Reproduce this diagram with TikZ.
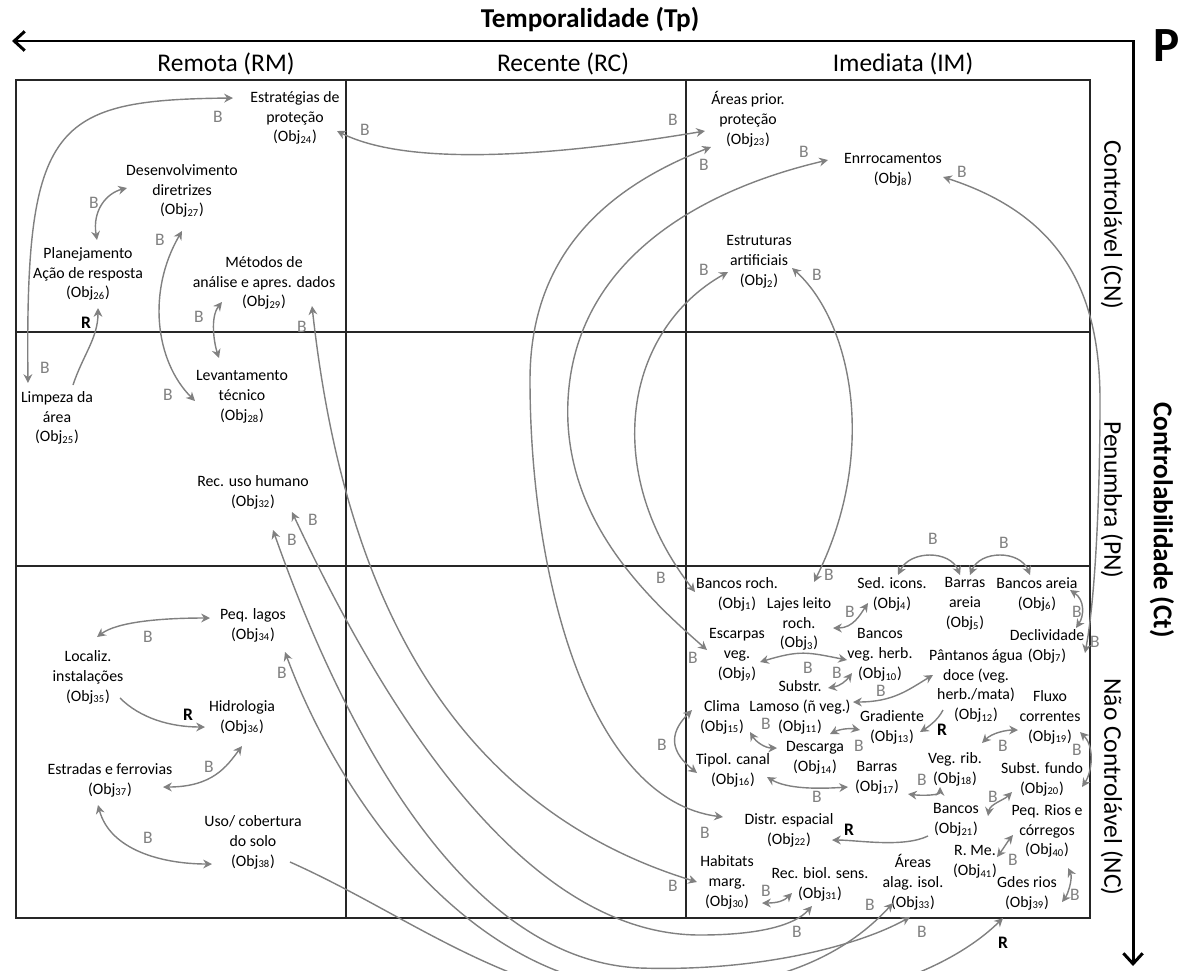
\documentclass[tikz,border=0pt]{standalone}
\usepackage{fontspec}
\setmainfont{Carlito}
\usetikzlibrary{arrows.meta}
\definecolor{linkgray}{RGB}{128,128,128}
\tikzset{
  obj/.style={align=center,inner sep=1pt,font=\fontsize{9}{11.3}\selectfont},
  hdr/.style={font=\fontsize{14.5}{17}\selectfont},
  ttl/.style={font=\bfseries\fontsize{15.5}{18}\selectfont},
  celline/.style={line width=0.9pt,black!85},
  axisline/.style={line width=1.7pt,line join=miter,{Straight Barb[length=6pt,width=11pt]}-{Straight Barb[length=6pt,width=11pt]}},
  lnk/.style={linkgray,line width=0.8pt,-{Stealth[length=5pt,width=5pt]}},
  lnkb/.style={lnk,{Stealth[length=5pt,width=5pt]}-{Stealth[length=5pt,width=5pt]}},
  bl/.style={text=linkgray,inner sep=0pt,font=\fontsize{10}{12}\selectfont},
  rl/.style={inner sep=0pt,font=\bfseries\fontsize{10}{12}\selectfont}
}
\begin{document}
\begin{tikzpicture}[x=0.02cm,y=-0.02cm]
    \useasboundingbox (0,0) rectangle (1189,970);
    \coordinate (tpend) at (12,41);
    \coordinate (corner) at (1133,41);
    \coordinate (ctend) at (1133,966);
    \draw[axisline] (tpend) -- (corner) -- (ctend);
    \node[ttl] (tp) at (590,20) {Temporalidade (Tp)};
    \node[font=\bfseries\fontsize{28}{30}\selectfont] (pp) at (1167,46) {P};
    \node[ttl,rotate=-90] (ct) at (1162,520) {Controlabilidade (Ct)};
    \node[hdr] (rm) at (226,64) {Remota (RM)};
    \node[hdr] (rc) at (563,64) {Recente (RC)};
    \node[hdr] (im) at (903,64) {Imediata (IM)};
    \node[hdr,rotate=-90] (cn) at (1112,225) {Controlável (CN)};
    \node[hdr,rotate=-90] (pn) at (1112,500) {Penumbra (PN)};
    \node[hdr,rotate=-90] (nc) at (1112,787) {Não Controlável (NC)};
    \draw[celline] (16,80) rectangle (1090,918);
    \draw[celline] (346,80) -- (346,918);
    \draw[celline] (686,80) -- (686,918);
    \draw[celline] (16,332) -- (1090,332);
    \draw[celline] (16,566) -- (1090,566);

    \node[obj] (o24) at (295,118) {Estratégias de\\proteção\\(Obj\textsubscript{24})};
    \node[obj] (o27) at (182,191) {Desenvolvimento\\diretrizes\\(Obj\textsubscript{27})};
    \node[obj] (o26) at (88,274) {Planejamento\\Ação de resposta\\(Obj\textsubscript{26})};
    \node[obj] (o29) at (264,283) {Métodos de\\análise e apres. dados\\(Obj\textsubscript{29})};
    \node[obj] (o25) at (57,418) {Limpeza da\\área\\(Obj\textsubscript{25})};
    \node[obj] (o28) at (242,397) {Levantamento\\técnico\\(Obj\textsubscript{28})};
    \node[obj] (o32) at (253,492) {Rec. uso humano\\(Obj\textsubscript{32})};
    \node[obj] (o34) at (253,625) {Peq. lagos\\(Obj\textsubscript{34})};
    \node[obj] (o35) at (88,677) {Localiz.\\instalações\\(Obj\textsubscript{35})};
    \node[obj] (o36) at (242,717) {Hidrologia\\(Obj\textsubscript{36})};
    \node[obj] (o37) at (110,780) {Estradas e ferrovias\\(Obj\textsubscript{37})};
    \node[obj] (o38) at (253,842) {Uso/ cobertura\\do solo\\(Obj\textsubscript{38})};
    \node[obj] (o23) at (748,119) {Áreas prior.\\proteção\\(Obj\textsubscript{23})};
    \node[obj] (o8) at (893,170) {Enrrocamentos\\(Obj\textsubscript{8})};
    \node[obj] (o2) at (759,262) {Estruturas\\artificiais\\(Obj\textsubscript{2})};
    \node[obj] (o1) at (737,594) {Bancos roch.\\(Obj\textsubscript{1})};
    \node[obj] (o3) at (799,624) {Lajes leito\\roch.\\(Obj\textsubscript{3})};
    \node[obj] (o4) at (892,594) {Sed. icons.\\(Obj\textsubscript{4})};
    \node[obj] (o5) at (965,604) {Barras\\areia\\(Obj\textsubscript{5})};
    \node[obj] (o6) at (1037,594) {Bancos areia\\(Obj\textsubscript{6})};
    \node[obj] (o7) at (1047,646) {Declividade\\(Obj\textsubscript{7})};
    \node[obj] (o9) at (737,655) {Escarpas\\veg.\\(Obj\textsubscript{9})};
    \node[obj] (o10) at (880,655) {Bancos\\veg. herb.\\(Obj\textsubscript{10})};
    \node[obj] (o12) at (976,686) {Pântanos água\\doce (veg.\\herb./mata)\\(Obj\textsubscript{12})};
    \node[obj] (o11) at (800,707) {Substr.\\Lamoso (ñ veg.)\\(Obj\textsubscript{11})};
    \node[obj] (o15) at (722,717) {Clima\\(Obj\textsubscript{15})};
    \node[obj] (o13) at (892,727) {Gradiente\\(Obj\textsubscript{13})};
    \node[obj] (o19) at (1050,717) {Fluxo\\correntes\\(Obj\textsubscript{19})};
    \node[obj] (o14) at (815,758) {Descarga\\(Obj\textsubscript{14})};
    \node[obj] (o16) at (733,770) {Tipol. canal\\(Obj\textsubscript{16})};
    \node[obj] (o17) at (877,778) {Barras\\(Obj\textsubscript{17})};
    \node[obj] (o18) at (955,769) {Veg. rib.\\(Obj\textsubscript{18})};
    \node[obj] (o20) at (1042,779) {Subst. fundo\\(Obj\textsubscript{20})};
    \node[obj] (o21) at (956,820) {Bancos\\(Obj\textsubscript{21})};
    \node[obj] (o40) at (1047,831) {Peq. Rios e\\córregos\\(Obj\textsubscript{40})};
    \node[obj] (o22) at (789,830) {Distr. espacial\\(Obj\textsubscript{22})};
    \node[obj] (o41) at (975,862) {R. Me.\\(Obj\textsubscript{41})};
    \node[obj] (o30) at (727,882) {Habitats\\marg.\\(Obj\textsubscript{30})};
    \node[obj] (o31) at (820,884) {Rec. biol. sens.\\(Obj\textsubscript{31})};
    \node[obj] (o33) at (913,882) {Áreas\\alag. isol.\\(Obj\textsubscript{33})};
    \node[obj] (o39) at (1027,893) {Gdes rios\\(Obj\textsubscript{39})};

    \draw[lnkb] ([shift={(-29,-35)}]o25.center) .. controls +(-3,-260) and +(-180,2) .. ([shift={(-62,-20)}]o24.center);
    \draw[lnk] ([shift={(16,-33)}]o25.center) .. controls +(10,-30) and +(0,30) .. ([shift={(10,34)}]o26.center);
    \draw[lnkb] ([shift={(9,-34)}]o26.center) .. controls +(-5,-30) and +(-20,5) .. ([shift={(-55,-3)}]o27.center);
    \draw[lnkb] ([shift={(0,40)}]o27.center) .. controls +(-35,60) and +(-40,-40) .. ([shift={(-47,4)}]o28.center);
    \draw[lnkb] ([shift={(-42,19)}]o29.center) .. controls +(-12,15) and +(-5,-15) .. ([shift={(-23,-39)}]o28.center);
    \draw[lnkb] ([shift={(48,23)}]o29.center) .. controls +(28,254) and +(-267,-82) .. ([shift={(-30,0)}]o30.center);
    \draw[lnkb] ([shift={(42,13)}]o24.center) .. controls +(80,40) and +(-120,20) .. ([shift={(-43,12)}]o23.center);
    \draw[lnkb] ([shift={(-37,28)}]o23.center) .. controls (600,190) and (530,260) .. (530,380)
        .. controls (530,580) and (590,800) .. ([shift={(-66,-13)}]o22.center);
    \draw[lnkb] ([shift={(-65,-10)}]o8.center) .. controls (700,190) and (575,260) .. (568,400)
        .. controls (562,520) and (650,600) .. ([shift={(-30,-5)}]o9.center);
    \draw[lnkb] ([shift={(-31,10)}]o2.center) .. controls (625,330) and (600,470) .. ([shift={(-42,-2)}]o1.center);
    \draw[lnkb] ([shift={(33,6)}]o2.center) .. controls (850,320) and (880,450) .. ([shift={(15,-42)}]o3.center);
    \draw[lnkb] ([shift={(50,7)}]o8.center) .. controls (1060,215) and (1100,290) .. (1100,400)
        .. controls (1100,500) and (1095,600) .. ([shift={(38,7)}]o7.center);
    \draw[lnkb] ([shift={(6,-19)}]o4.center) .. controls +(12,-25) and +(-10,-25) .. ([shift={(-5,-29)}]o5.center);
    \draw[lnkb] ([shift={(5,-29)}]o5.center) .. controls +(10,-25) and +(-10,-25) .. ([shift={(-7,-19)}]o6.center);
    \draw[lnkb] ([shift={(33,-4)}]o6.center) .. controls +(15,10) and +(8,-12) .. ([shift={(29,-18)}]o7.center);
    \draw[lnkb] ([shift={(34,4)}]o3.center) .. controls +(20,0) and +(-8,12) .. ([shift={(-24,9)}]o4.center);
    \draw[lnkb] ([shift={(23,7)}]o9.center) .. controls +(40,-12) and +(-40,-8) .. ([shift={(-33,5)}]o10.center);
    \draw[lnkb] ([shift={(28,-19)}]o11.center) .. controls +(12,-2) and +(-6,8) .. ([shift={(-28,18)}]o10.center);
    \draw[lnkb] ([shift={(53,-5)}]o11.center) .. controls +(40,0) and +(-25,15) .. ([shift={(-43,-11)}]o12.center);
    \draw[lnk] ([shift={(-33,24)}]o12.center) .. controls +(-5,10) and +(8,-5) .. ([shift={(28,5)}]o13.center);
    \draw[lnkb] ([shift={(28,15)}]o15.center) .. controls +(6,10) and +(-12,0) .. ([shift={(-38,-10)}]o14.center);
    \draw[lnkb] ([shift={(15,-24)}]o14.center) .. controls +(10,-5) and +(-10,-2) .. ([shift={(-32,3)}]o13.center);
    \draw[lnkb] ([shift={(34,7)}]o16.center) .. controls +(20,12) and +(-30,2) .. ([shift={(-29,9)}]o17.center);
    \draw[lnkb] ([shift={(31,16)}]o17.center) .. controls +(15,2) and +(0,8) .. ([shift={(-15,18)}]o18.center);
    \draw[lnkb] ([shift={(27,-26)}]o18.center) .. controls +(10,-10) and +(-12,0) .. ([shift={(-32,13)}]o19.center);
    \draw[lnkb] ([shift={(30,15)}]o19.center) .. controls +(15,15) and +(10,-15) .. ([shift={(40,8)}]o20.center);
    \draw[lnkb] ([shift={(32,-4)}]o21.center) .. controls +(2,-12) and +(-8,8) .. ([shift={(-30,13)}]o20.center);
    \draw[lnk] ([shift={(-28,16)}]o21.center) .. controls +(-25,12) and +(25,0) .. ([shift={(43,10)}]o22.center);
    \draw[lnkb] ([shift={(22,-5)}]o41.center) .. controls +(6,-8) and +(-5,6) .. ([shift={(-34,4)}]o40.center);
    \draw[lnkb] ([shift={(21,37)}]o40.center) .. controls +(5,10) and +(6,-8) .. ([shift={(35,9)}]o39.center);
    \draw[lnkb] ([shift={(35,21)}]o30.center) .. controls +(15,0) and +(-8,8) .. ([shift={(-28,9)}]o31.center);
    \draw[lnkb] ([shift={(-30,-7)}]o15.center) .. controls +(-25,25) and +(-25,-20) .. ([shift={(-36,3)}]o16.center);
    \draw[lnkb] ([shift={(9,-40)}]o35.center) .. controls +(20,-15) and +(-50,0) .. ([shift={(-43,-7)}]o34.center);
    \draw[lnk] ([shift={(32,21)}]o35.center) .. controls +(20,20) and +(-35,0) .. ([shift={(-37,10)}]o36.center);
    \draw[lnkb] ([shift={(53,7)}]o37.center) .. controls +(50,0) and +(-15,20) .. ([shift={(0,29)}]o36.center);
    \draw[lnkb] ([shift={(-12,25)}]o37.center) .. controls +(12,45) and +(-50,0) .. ([shift={(-41,22)}]o38.center);
    \draw[lnkb] ([shift={(39,20)}]o32.center) .. controls (380,700) and (520,935) .. (700,935)
        .. controls (760,935) and (795,925) .. ([shift={(-8,22)}]o31.center);
    \draw[lnkb] ([shift={(20,38)}]o32.center) .. controls (340,720) and (460,960) .. (640,968)
        .. controls (760,972) and (860,945) .. ([shift={(-3,35)}]o33.center);
    \draw[lnkb] ([shift={(32,27)}]o34.center) .. controls (340,800) and (470,985) .. (650,990)
        .. controls (780,992) and (850,950) .. ([shift={(-20,21)}]o33.center);
    \draw[lnk] ([shift={(37,20)}]o38.center) .. controls (420,920) and (520,1010) .. (700,1010)
        .. controls (850,1010) and (950,970) .. ([shift={(-24,25)}]o39.center);

    \node[bl] (b1a) at (45,368) {B};
    \node[bl] (b1b) at (218,117) {B};
    \node[rl] (r2) at (86,323) {R};
    \node[bl] (b3) at (94,203) {B};
    \node[bl] (b4a) at (160,240) {B};
    \node[bl] (b4b) at (168,395) {B};
    \node[bl] (b5) at (199,317) {B};
    \node[bl] (b6a) at (302,327) {B};
    \node[bl] (b6b) at (673,886) {B};
    \node[bl] (b7a) at (365,130) {B};
    \node[bl] (b7b) at (673,120) {B};
    \node[bl] (b8a) at (704,165) {B};
    \node[bl] (b8b) at (705,833) {B};
    \node[bl] (b9a) at (804,152) {B};
    \node[bl] (b9b) at (693,658) {B};
    \node[bl] (b10a) at (704,270) {B};
    \node[bl] (b10b) at (661,578) {B};
    \node[bl] (b11a) at (817,275) {B};
    \node[bl] (b11b) at (829,575) {B};
    \node[bl] (b12a) at (962,172) {B};
    \node[bl] (b12b) at (1095,642) {B};
    \node[bl] (b13) at (933,539) {B};
    \node[bl] (b14) at (1004,543) {B};
    \node[bl] (b15) at (1077,612) {B};
    \node[bl] (b16) at (850,612) {B};
    \node[bl] (b17) at (808,668) {B};
    \node[bl] (b18) at (837,673) {B};
    \node[bl] (b19) at (881,691) {B};
    \node[rl] (r20) at (942,730) {R};
    \node[bl] (b21) at (766,724) {B};
    \node[bl] (b22) at (859,746) {B};
    \node[bl] (b23) at (817,797) {B};
    \node[bl] (b24) at (922,780) {B};
    \node[bl] (b25) at (1003,746) {B};
    \node[bl] (b26) at (1077,750) {B};
    \node[bl] (b27) at (993,797) {B};
    \node[rl] (r28) at (849,830) {R};
    \node[bl] (b29) at (1013,860) {B};
    \node[bl] (b30) at (1075,895) {B};
    \node[bl] (b31) at (766,891) {B};
    \node[bl] (b32) at (662,745) {B};
    \node[bl] (b33) at (148,637) {B};
    \node[rl] (r34) at (188,715) {R};
    \node[bl] (b35) at (209,767) {B};
    \node[bl] (b36) at (148,838) {B};
    \node[bl] (b37a) at (313,520) {B};
    \node[bl] (b37b) at (797,932) {B};
    \node[bl] (b38a) at (292,540) {B};
    \node[bl] (b38b) at (922,932) {B};
    \node[bl] (b39a) at (282,673) {B};
    \node[bl] (b39b) at (870,905) {B};
    \node[rl] (r40) at (1003,943) {R};
\end{tikzpicture}
\end{document}
